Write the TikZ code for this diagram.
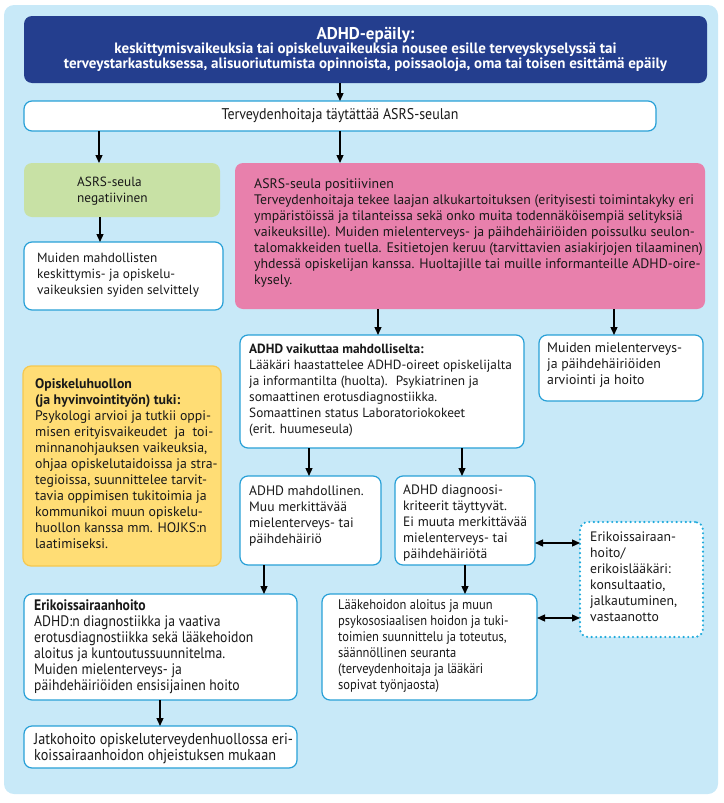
\documentclass[tikz,border=0pt]{standalone}
\usepackage{fontspec}
\setmainfont{PT Sans}
\newfontfamily\condfont[FakeStretch=0.9]{PT Sans}
\usetikzlibrary{arrows.meta,calc}
\definecolor{bgblue}{RGB}{200,233,248}
\definecolor{darkblue}{RGB}{36,62,142}
\definecolor{cyanb}{RGB}{40,160,215}
\definecolor{greenbox}{RGB}{200,225,165}
\definecolor{pinkbox}{RGB}{232,128,172}
\definecolor{yelbox}{RGB}{255,221,117}
\definecolor{yelborder}{RGB}{245,200,80}
\definecolor{dotcol}{RGB}{30,170,220}
\definecolor{txt}{RGB}{25,25,25}
\newcommand{\fs}[1]{\fontsize{#1}{16}\selectfont}
\begin{document}
\begin{tikzpicture}[x=1pt,y=-1pt,
  basebox/.style={anchor=north west, rounded corners=8pt, line width=1.2pt, outer sep=0pt, inner sep=0pt},
  wbox/.style={basebox, draw=cyanb, fill=white},
  lbl/.style={anchor=west, align=left, inner sep=0pt, text=txt},
  arr/.style={line width=1.3pt, -{Triangle[length=8pt,width=7pt]}},
  darr/.style={line width=1.3pt, {Triangle[length=8pt,width=7pt]}-{Triangle[length=8pt,width=7pt]}}
]
\useasboundingbox (0,0) rectangle (723,803);
\fill[bgblue, rounded corners=10pt] (4,5) rectangle (718,794);

% top box
\node[basebox, fill=darkblue, text=white, minimum width=683pt, minimum height=67pt, align=center] (top) at (24,16)
 {{\fontsize{17}{19}\selectfont\bfseries ADHD-epäily:}\\[-1pt]
  {\bfseries\fontsize{15}{18}\selectfont keskittymisvaikeuksia tai opiskeluvaikeuksia nousee esille terveyskyselyssä tai}\\
  {\bfseries\fontsize{15}{18}\selectfont terveystarkastuksessa, alisuoriutumista opinnoista, poissaoloja, oma tai toisen esittämä epäily}};

\node[wbox, font=\condfont\fs{15.5}, text=txt, minimum width=632pt, minimum height=30pt, align=center] (t2) at (24,101)
 {Terveydenhoitaja täytättää ASRS-seulan};

% green
\node[basebox, fill=greenbox, minimum width=196pt, minimum height=54pt] (neg) at (24,163) {};
\node[lbl, font=\fs{13.3}] (negT) at (77,191) {ASRS-seula\\negatiivinen};

% pink
\node[basebox, fill=pinkbox, minimum width=470pt, minimum height=146pt] (pos) at (235,163) {};
\node[lbl, font=\fs{13.8}] (posT) at ($(pos.west)+(19,-3)$)
 {ASRS-seula positiivinen\\
 Terveydenhoitaja tekee laajan alkukartoituksen (erityisesti toimintakyky eri\\
 ympäristöissä ja tilanteissa sekä onko muita todennäköisempiä selityksiä\\
 vaikeuksille). Muiden mielenterveys- ja päihdehäiriöiden poissulku seulon-\\
 talomakkeiden tuella. Esitietojen keruu (tarvittavien asiakirjojen tilaaminen)\\
 yhdessä opiskelijan kanssa. Huoltajille tai muille informanteille ADHD-oire-\\
 kysely.};

% muid1
\node[wbox, minimum width=199pt, minimum height=68pt] (muid1) at (24,242) {};
\node[lbl, font=\fs{13.3}] (muid1T) at ($(muid1.west)+(13,-1)$)
 {Muiden mahdollisten\\keskittymis- ja opiskelu-\\vaikeuksien syiden selvittely};

% vaik
\node[wbox, minimum width=284pt, minimum height=113pt] (vaik) at (240,335) {};
\node[lbl, font=\fs{13.3}] (vaikT) at ($(vaik.west)+(9,-1)$)
 {\textbf{ADHD vaikuttaa mahdolliselta:}\\
 Lääkäri haastattelee ADHD-oireet opiskelijalta\\
 ja informantilta (huolta).~ Psykiatrinen ja\\
 somaattinen erotusdiagnostiikka.\\
 Somaattinen status Laboratoriokokeet\\
 (erit. huumeseula)};

% muid2
\node[wbox, minimum width=164pt, minimum height=66pt] (muid2) at (539,335) {};
\node[lbl, font=\fs{13.8}] (muid2T) at ($(muid2.west)+(8,-3)$)
 {Muiden mielenterveys-\\ja päihdehäiriöiden\\arviointi ja hoito};

% yellow
\node[basebox, draw=yelborder, fill=yelbox, minimum width=198pt, minimum height=200pt] (yel) at (23,366) {};
\node[lbl, font=\fs{13.8}] (yelT) at ($(yel.west)+(12,-2)$)
 {\textbf{Opiskeluhuollon}\\
 \textbf{(ja hyvinvointityön) tuki:}\\
 Psykologi arvioi ja tutkii oppi-\\
 misen erityisvaikeudet~ ja~ toi-\\
 minnanohjauksen vaikeuksia,\\
 ohjaa opiskelutaidoissa ja stra-\\
 tegioissa, suunnittelee tarvit-\\
 tavia oppimisen tukitoimia ja\\
 kommunikoi muun opiskelu-\\
 huollon kanssa mm. HOJKS:n\\
 laatimiseksi.};

% mahd
\node[wbox, minimum width=141pt, minimum height=89pt] (mahd) at (240,476) {};
\node[lbl, font=\fs{13.6}] (mahdT) at ($(mahd.west)+(9,-4)$)
 {ADHD mahdollinen.\\Muu merkittävää\\mielenterveys- tai\\päihdehäiriö};

% diag
\node[wbox, minimum width=140pt, minimum height=89pt] (diag) at (395,476) {};
\node[lbl, font=\fs{13.6}] (diagT) at ($(diag.west)+(8,3)$)
 {ADHD diagnoosi-\\kriteerit täyttyvät.\\Ei muuta merkittävää\\mielenterveys- tai\\päihdehäiriötä};

% dotted
\node[basebox, draw=dotcol, line width=2.4pt, dash pattern=on 0pt off 4.6pt, line cap=round, fill=white, minimum width=123pt, minimum height=115pt] (dot) at (580,522) {};
\node[lbl, font=\fs{13.7}] (dotT) at ($(dot.west)+(10,-3)$)
 {Erikoissairaan-\\hoito/\\erikoislääkäri:\\konsultaatio,\\jalkautuminen,\\vastaanotto};

% erik
\node[wbox, minimum width=273pt, minimum height=106pt] (erik) at (24,594) {};
\node[lbl, font=\condfont\fs{15.2}] (erikT) at ($(erik.west)+(10,0)$)
 {\textbf{Erikoissairaanhoito}\\
 ADHD:n diagnostiikka ja vaativa\\
 erotusdiagnostiikka sekä lääkehoidon\\
 aloitus ja kuntoutussuunnitelma.\\
 Muiden mielenterveys- ja\\
 päihdehäiriöiden ensisijainen hoito};

% laake
\node[wbox, minimum width=215pt, minimum height=106pt] (laake) at (322,594) {};
\node[lbl, font=\condfont\fs{13.9}] (laakeT) at ($(laake.west)+(16,-1)$)
 {Lääkehoidon aloitus ja muun\\
 psykososiaalisen hoidon ja tuki-\\
 toimien suunnittelu ja toteutus,\\
 säännöllinen seuranta\\
 (terveydenhoitaja ja lääkäri\\
 sopivat työnjaosta)};

% jatko
\node[wbox, minimum width=273pt, minimum height=42pt] (jatko) at (24,726) {};
\node[lbl, font=\condfont\fs{15.8}] (jatkoT) at ($(jatko.west)+(10,2)$)
 {Jatkohoito opiskeluterveydenhuollossa eri-\\koissairaanhoidon ohjeistuksen mukaan};

% column coordinates
\coordinate (x99) at (99,0);
\coordinate (x100) at (100,0);
\coordinate (x160) at (160,0);
\coordinate (x264) at (264,0);
\coordinate (x309) at (309,0);
\coordinate (x340) at (340,0);
\coordinate (x378) at (378,0);
\coordinate (x462) at (462,0);
\coordinate (x465) at (465,0);
\coordinate (x614) at (614,0);
\coordinate (y543) at (0,543);
\coordinate (y618) at (0,618);

\draw[arr] (top.south -| x340) -- (t2.north -| x340);
\draw[arr] (t2.south -| x99) -- (neg.north -| x99);
\draw[arr] (t2.south -| x340) -- (pos.north -| x340);
\draw[arr] (neg.south -| x100) -- (muid1.north -| x100);
\draw[arr] (pos.south -| x378) -- (vaik.north -| x378);
\draw[arr] (pos.south -| x614) -- (muid2.north -| x614);
\draw[arr] (vaik.south -| x309) -- (mahd.north -| x309);
\draw[arr] (vaik.south -| x462) -- (diag.north -| x462);
\draw[arr] (mahd.south -| x264) -- (erik.north -| x264);
\draw[arr] (diag.south -| x465) -- (laake.north -| x465);
\draw[arr] (erik.south -| x160) -- (jatko.north -| x160);
\draw[darr] (diag.east |- y543) -- (dot.west |- y543);
\draw[darr] (laake.east |- y618) -- (dot.west |- y618);
\end{tikzpicture}
\end{document}
